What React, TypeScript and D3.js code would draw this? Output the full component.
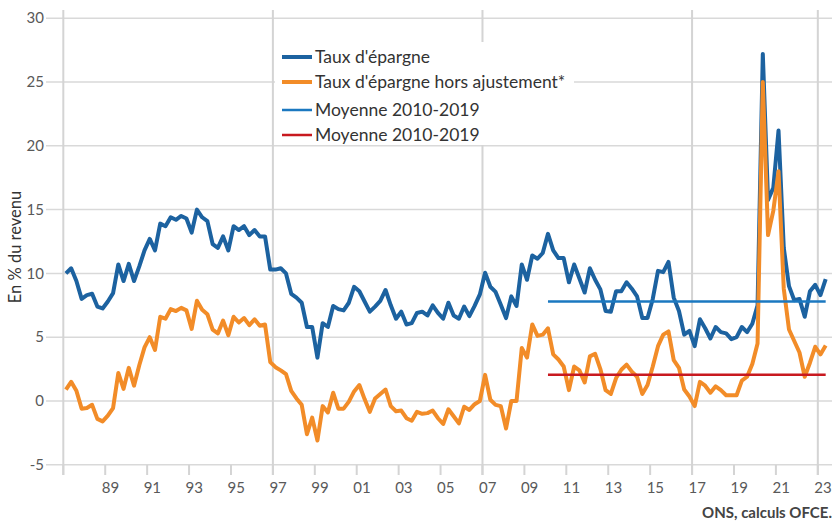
import React, { useEffect, useRef } from "react";
import * as d3 from "d3";

// quarterly data, 1987T1 .. 2023T2
const firstYear = 1987;

const tauxEpargne = [
  10.0, 10.4, 9.4, 8.0, 8.3, 8.4, 7.4, 7.25, 7.8, 8.45,
  10.7, 9.4, 10.75, 9.4, 10.55, 11.8, 12.7, 11.8, 13.9, 13.7,
  14.4, 14.2, 14.5, 14.3, 13.2, 15.0, 14.4, 14.1, 12.3, 12.0,
  12.9, 11.8, 13.7, 13.4, 13.7, 13.0, 13.4, 12.9, 12.9, 10.3,
  10.3, 10.4, 10.0, 8.4, 8.1, 7.7, 5.8, 5.8, 3.4, 6.1,
  5.8, 7.45, 7.2, 7.1, 7.7, 8.95, 8.6, 7.8, 7.0, 7.4,
  7.85, 8.7, 7.5, 6.45, 7.0, 6.0, 6.1, 6.9, 7.0, 6.7,
  7.5, 6.9, 6.45, 7.7, 6.7, 6.45, 7.4, 6.65, 7.45, 8.35,
  10.05, 8.95, 8.55, 7.55, 6.5, 8.2, 7.45, 10.7, 9.5, 11.4,
  11.15, 11.6, 13.1, 11.8, 11.2, 11.2, 9.3, 10.7, 9.6, 8.5,
  10.4, 9.5, 8.75, 7.05, 7.0, 8.6, 8.6, 9.3, 8.8, 8.2,
  6.5, 6.5, 8.0, 10.2, 10.1, 10.9, 8.1, 7.05, 5.2, 5.5,
  4.3, 6.4, 5.7, 4.9, 5.8, 5.4, 5.3, 4.85, 5.0, 5.8,
  5.4, 6.05, 7.5, 27.2, 15.75, 16.7, 21.2, 12.0, 9.0, 7.9,
  8.0, 6.6, 8.6, 9.1, 8.3, 9.55,
];

const tauxHorsAjustement = [
  0.9, 1.5, 0.8, -0.6, -0.55, -0.3, -1.4, -1.6, -1.15, -0.55,
  2.2, 0.95, 2.6, 1.2, 2.8, 4.2, 5.0, 4.0, 6.6, 6.45,
  7.2, 7.05, 7.3, 7.1, 5.65, 7.85, 7.15, 6.8, 5.6, 5.3,
  6.3, 5.15, 6.6, 6.15, 6.5, 5.95, 6.4, 5.9, 6.0, 3.05,
  2.65, 2.4, 2.1, 0.8, 0.2, -0.3, -2.6, -1.3, -3.1, -0.4,
  -0.9, 0.65, -0.6, -0.6, -0.05, 0.75, 1.25, 0.15, -0.85, 0.2,
  0.55, 0.9, -0.4, -0.8, -0.75, -1.35, -1.55, -0.85, -1.0, -0.95,
  -0.75, -1.35, -1.8, -0.65, -1.2, -1.75, -0.45, -0.7, -0.25, 0.0,
  2.05, 0.1, -0.3, -0.4, -2.15, 0.0, 0.0, 4.15, 3.4, 6.0,
  5.1, 5.2, 5.7, 3.65, 3.25, 2.7, 0.85, 2.7, 2.4, 1.45,
  3.5, 3.7, 2.5, 0.85, 0.55, 1.8, 2.45, 2.85, 2.3, 1.9,
  0.55, 1.25, 2.7, 4.3, 5.2, 5.45, 3.2, 2.6, 0.9, 0.35,
  -0.4, 1.5, 1.2, 0.65, 1.15, 0.85, 0.45, 0.45, 0.45, 1.6,
  1.9, 2.9, 4.5, 25.0, 13.0, 14.9, 18.0, 8.8, 5.6, 4.7,
  3.8, 1.9, 3.0, 4.25, 3.65, 4.35,
];

// moyennes 2010-2019, tracées de 2010T1 à la fin
const moyenneDebut = 2010;
const moyenneEpargne = 7.8;
const moyenneHorsAjustement = 2.05;

const yTicks = [-5, 0, 5, 10, 15, 20, 25, 30];
const xLabels = ["89", "91", "93", "95", "97", "99", "01", "03", "05", "07", "09", "11", "13", "15", "17", "19", "21", "23"];
const xGridYears = [1987, 1997, 2007, 2017, 2023];

const legendItems = [
  { label: "Taux d'épargne", color: "#1c62a0", width: 4 },
  { label: "Taux d'épargne hors ajustement*", color: "#f28c28", width: 4 },
  { label: "Moyenne 2010-2019", color: "#1b78c0", width: 2.5 },
  { label: "Moyenne 2010-2019", color: "#c8191f", width: 2.5 },
];

const font = "Lato, 'Open Sans', sans-serif";

export default function App() {
  const ref = useRef<SVGSVGElement>(null);

  useEffect(() => {
    const svg = d3.select(ref.current);
    svg.selectAll("*").remove();

    const n = tauxEpargne.length;
    // x in quarters since 1987T1 (boundaries), points at the middle of each quarter
    const x = d3.scaleLinear().domain([0, n]).range([63.3, 828.3]);
    const y = d3.scaleLinear().domain([-5, 30]).range([464.8, 18.2]);
    const q = (year: number) => (year - firstYear) * 4;

    // horizontal grid
    svg.append("g")
      .selectAll("line")
      .data(yTicks)
      .join("line")
      .attr("x1", 46)
      .attr("x2", 832)
      .attr("y1", d => y(d))
      .attr("y2", d => y(d))
      .attr("stroke", "#d9d9d9")
      .attr("stroke-width", 1.5);

    // vertical grid
    svg.append("g")
      .selectAll("line")
      .data(xGridYears)
      .join("line")
      .attr("x1", d => x(q(d)))
      .attr("x2", d => x(q(d)))
      .attr("y1", 10)
      .attr("y2", 475)
      .attr("stroke", "#d4d4d4")
      .attr("stroke-width", 2);

    // bottom tick marks every 2 years
    svg.append("g")
      .selectAll("line")
      .data(d3.range(0, xLabels.length + 1))
      .join("line")
      .attr("x1", d => x(d * 8))
      .attr("x2", d => x(d * 8))
      .attr("y1", y(-5))
      .attr("y2", 475)
      .attr("stroke", "#d4d4d4")
      .attr("stroke-width", 2);

    // y labels
    svg.append("g")
      .selectAll("text")
      .data(yTicks)
      .join("text")
      .attr("x", 44)
      .attr("y", d => y(d))
      .attr("dy", "0.35em")
      .attr("text-anchor", "end")
      .style("font-family", font)
      .style("font-size", "15px")
      .style("fill", "#595959")
      .text(d => d);

    // x labels
    svg.append("g")
      .selectAll("text")
      .data(xLabels)
      .join("text")
      .attr("x", (d, i) => x((i + 1) * 8 + 1))
      .attr("y", 493)
      .attr("text-anchor", "middle")
      .style("font-family", font)
      .style("font-size", "15px")
      .style("fill", "#595959")
      .text(d => d);

    // y axis title
    svg.append("text")
      .attr("transform", "translate(21, 247) rotate(-90)")
      .attr("text-anchor", "middle")
      .style("font-family", font)
      .style("font-size", "16.5px")
      .style("fill", "#333")
      .text("En % du revenu");

    // source
    svg.append("text")
      .attr("x", 832)
      .attr("y", 518)
      .attr("text-anchor", "end")
      .style("font-family", font)
      .style("font-size", "15px")
      .style("font-weight", "bold")
      .style("fill", "#444")
      .text("ONS, calculs OFCE.");

    const line = d3.line<number>()
      .x((d, i) => x(i + 0.5))
      .y(d => y(d));

    svg.append("path")
      .datum(tauxEpargne)
      .attr("fill", "none")
      .attr("stroke", legendItems[0].color)
      .attr("stroke-width", 4)
      .attr("stroke-linejoin", "round")
      .attr("d", line);

    svg.append("path")
      .datum(tauxHorsAjustement)
      .attr("fill", "none")
      .attr("stroke", legendItems[1].color)
      .attr("stroke-width", 4)
      .attr("stroke-linejoin", "round")
      .attr("d", line);

    // average lines
    const start = q(moyenneDebut);
    [moyenneEpargne, moyenneHorsAjustement].forEach((m, k) => {
      svg.append("line")
        .attr("x1", x(start + 0.5))
        .attr("x2", x(n - 0.5))
        .attr("y1", y(m))
        .attr("y2", y(m))
        .attr("stroke", legendItems[k + 2].color)
        .attr("stroke-width", 2.5);
    });

    // legend
    const lg = svg.append("g");
    lg.append("rect")
      .attr("x", 275)
      .attr("y", 42)
      .attr("width", 299)
      .attr("height", 103)
      .attr("fill", "#fff");
    const rows = [57, 82, 110, 135];
    legendItems.forEach((it, i) => {
      lg.append("line")
        .attr("x1", 282)
        .attr("x2", 312)
        .attr("y1", rows[i])
        .attr("y2", rows[i])
        .attr("stroke", it.color)
        .attr("stroke-width", it.width);
      lg.append("text")
        .attr("x", 315)
        .attr("y", rows[i])
        .attr("dy", "0.35em")
        .style("font-family", font)
        .style("font-size", "17.5px")
        .style("fill", "#333")
        .text(it.label);
    });
  }, []);

  return (
    <svg
      ref={ref}
      width={834}
      height={521}
      style={{ position: "absolute", left: 0, top: 0, background: "#fff" }}
    />
  );
}
